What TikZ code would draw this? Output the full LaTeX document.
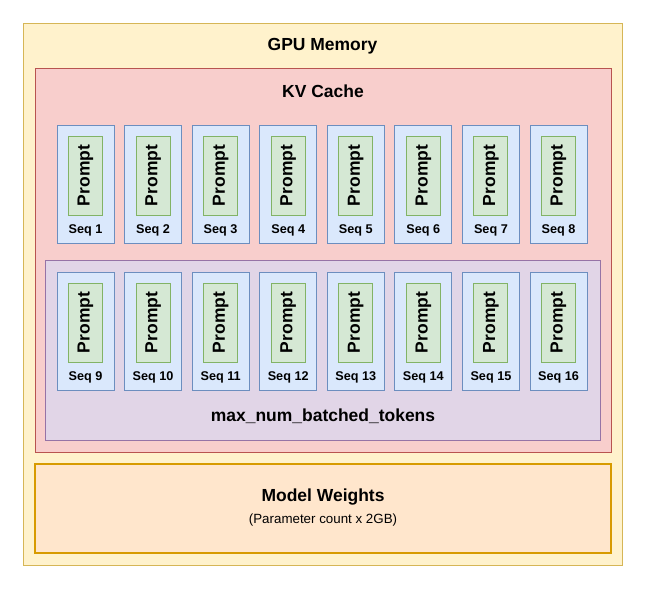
\documentclass[tikz,border=0pt]{standalone}
\usepackage{fontspec}
\setmainfont{Liberation Sans}
\usetikzlibrary{positioning}
\definecolor{memfill}{HTML}{FFF2CC}\definecolor{memline}{HTML}{D6B656}
\definecolor{kvfill}{HTML}{F8CECC}\definecolor{kvline}{HTML}{B85450}
\definecolor{batchfill}{HTML}{E1D5E7}\definecolor{batchline}{HTML}{9673A6}
\definecolor{seqfill}{HTML}{DAE8FC}\definecolor{seqline}{HTML}{6C8EBF}
\definecolor{promptfill}{HTML}{D5E8D4}\definecolor{promptline}{HTML}{82B366}
\definecolor{wfill}{HTML}{FFE6CC}\definecolor{wline}{HTML}{D79B00}
\begin{document}
\begin{tikzpicture}[x=0.75pt,y=-0.75pt,
  title/.style={font=\fontsize{13.1}{15}\selectfont\bfseries},
  seqbox/.style={draw=seqline,fill=seqfill,line width=0.75pt,minimum width=42.75pt,minimum height=88.5pt,inner sep=0pt},
  promptbox/.style={draw=promptline,fill=promptfill,line width=0.75pt,minimum width=59.25pt,minimum height=25.5pt,inner sep=0pt,
    rotate=90,font=\fontsize{13.1}{15}\selectfont\bfseries},
  seqlabel/.style={font=\fontsize{9.5}{11}\selectfont\bfseries}]
\useasboundingbox (0,0) rectangle (648,590);
% outer memory
\draw[draw=memline,fill=memfill,line width=0.75pt] (23,23) rectangle (622,565);
\node[title] (gpu) at (322.5,46) {GPU Memory};
% kv cache
\draw[draw=kvline,fill=kvfill,line width=0.75pt] (35,68) rectangle (611,452);
\node[title] (kv) at (323,91) {KV Cache};
\draw[draw=batchline,fill=batchfill,line width=0.75pt] (45,260) rectangle (600,440);
\node[title] (batch) at (323,416) {max\_num\_batched\_tokens};
% sequences
\foreach \i in {1,...,8} {
  \pgfmathsetmacro\cx{85.5+67.57*(\i-1)}
  \pgfmathtruncatemacro\j{\i+8}
  \node[seqbox] (s\i) at (\cx,184) {};
  \node[promptbox] (p\i) at (\cx,175.5) {Prompt};
  \node[seqlabel] (l\i) at (\cx,230) {Seq \i};
  \node[seqbox] (s\j) at (\cx,331) {};
  \node[promptbox] (p\j) at (\cx,322.5) {Prompt};
  \node[seqlabel] (l\j) at (\cx,377) {Seq \j};
}
% weights
\draw[draw=wline,fill=wfill,line width=1pt] (35,464) rectangle (611,553);
\node[title] (weights) at (323,497) {Model Weights};
\node[font=\fontsize{10}{12}\selectfont] (params) at (323,520) {(Parameter count x 2GB)};
\end{tikzpicture}
\end{document}
